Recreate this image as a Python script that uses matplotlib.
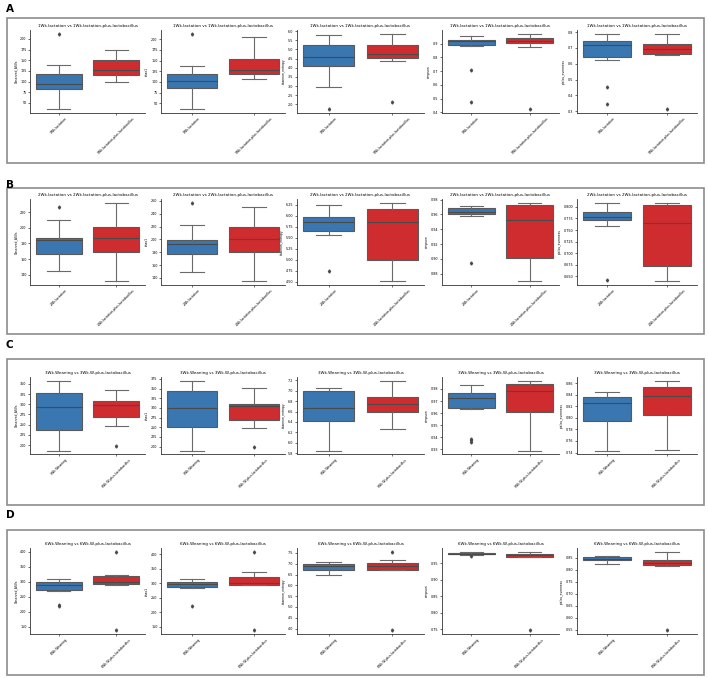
import numpy as np
import matplotlib
matplotlib.use('Agg')
import matplotlib.pyplot as plt
from matplotlib.patches import Rectangle
from matplotlib.ticker import MultipleLocator

metrics = ['Observed_ASVs', 'chao1', 'shannon_entropy', 'simpson', 'pielou_evenness']
panels = ['A', 'B', 'C', 'D']
groups = [['1Wk.lactation', '1Wk.lactation-plus-lactobacillus'],
          ['2Wk.lactation', '2Wk.lactation-plus-lactobacillus'],
          ['3Wk.Weaning', '3Wk.W-plus-lactobacillus'],
          ['6Wk.Weaning', '6Wk.W-plus-lactobacillus']]

# box stats per metric: whislo, q1, median, q3, whishi
A_ctrl = [[35, 82, 95, 118, 138], [36, 85, 103, 119, 138], [2.96, 4.08, 4.61, 5.22, 5.77],
          [0.880, 0.888, 0.922, 0.929, 0.957], [0.627, 0.644, 0.721, 0.746, 0.790]]
A_ctrl_out = [[212], [213], [1.73], [0.706, 0.474], [0.454, 0.346]]
A_lact = [[99, 116, 126, 150, 175], [107, 119, 128, 154, 206], [4.36, 4.54, 4.74, 5.25, 5.86],
          [0.874, 0.902, 0.919, 0.938, 0.972], [0.655, 0.660, 0.696, 0.727, 0.790]]
A_lact_out = [[], [], [2.12], [0.422], [0.312]]

B_ctrl = [[145, 167, 184, 187, 210.5], [149, 177, 193, 199, 222.6], [5.57, 5.64, 5.85, 5.98, 6.25],
          [0.958, 0.960, 0.9635, 0.968, 0.971], [0.759, 0.7715, 0.779, 0.788, 0.8085]]
B_ctrl_out = [[226.5], [257], [4.73], [0.894], [0.6415]]
B_lact = [[132, 169, 187, 201.4, 231.7], [135, 181, 200.5, 219, 251], [4.51, 4.99, 5.85, 6.16, 6.29],
          [0.870, 0.901, 0.953, 0.973, 0.9755], [0.640, 0.673, 0.766, 0.804, 0.8085]]
B_lact_out = [[], [], [], [], []]

C_ctrl = [[187, 238, 294, 327, 358], [190, 251, 300, 345, 371], [5.85, 6.41, 6.67, 6.99, 7.05],
          [0.963, 0.9644, 0.9728, 0.9764, 0.983], [0.7435, 0.7946, 0.826, 0.8356, 0.8457]]
C_ctrl_out = [[], [], [], [0.9386, 0.9375, 0.936], []]
C_lact = [[246, 268, 297, 308, 335], [248, 269, 304.5, 310, 351], [6.26, 6.59, 6.75, 6.89, 7.2],
          [0.929, 0.961, 0.9786, 0.984, 0.987], [0.7447, 0.8053, 0.8386, 0.854, 0.8648]]
C_lact_out = [[199], [199], [], [], []]

D_ctrl = [[268, 273, 288, 300, 310], [283.5, 287, 297, 305, 314], [6.46, 6.72, 6.88, 7.0, 7.08],
          [0.976, 0.978, 0.980, 0.982, 0.984], [0.826, 0.843, 0.847, 0.855, 0.859]]
D_ctrl_out = [[222, 218], [222.5], [], [0.972], []]
D_lact = [[288, 292.5, 299, 318, 323], [292.5, 295, 302, 321, 338], [6.69, 6.72, 6.9, 7.02, 7.16],
          [0.970, 0.971, 0.977, 0.979, 0.985], [0.816, 0.819, 0.83, 0.842, 0.875]]
D_lact_out = [[400, 138], [408, 139], [7.55, 3.93], [0.748], [0.548]]

ctrl = [A_ctrl, B_ctrl, C_ctrl, D_ctrl]
ctrl_out = [A_ctrl_out, B_ctrl_out, C_ctrl_out, D_ctrl_out]
lact = [A_lact, B_lact, C_lact, D_lact]
lact_out = [A_lact_out, B_lact_out, C_lact_out, D_lact_out]

# y tick spacing per panel / metric
tick_steps = [[25, 25, 0.5, 0.1, 0.1],
              [20, 20, 0.25, 0.02, 0.025],
              [25, 25, 0.2, 0.01, 0.02],
              [50, 50, 0.5, 0.05, 0.05]]

colors = ['#3a76af', '#cf2c2f']
W, H = 708, 678

fig = plt.figure(figsize=(W / 100, H / 100), dpi=100)
fig.patch.set_facecolor('white')

def fx(px):
    return px / W

def fy(py):
    return 1 - py / H

# panel frames (pixel rows)
frames = [(18, 163), (188, 334), (359, 505), (530, 675)]
label_y = [8.5, 185, 345, 515]
ax_rows = [(30, 113), (199, 285), (377, 454), (548, 634)]
ax_left = [30, 161, 297, 442, 577]
ax_right = [145, 285, 424, 559, 697]

def stats(s, out):
    return dict(whislo=s[0], q1=s[1], med=s[2], q3=s[3], whishi=s[4], fliers=out)

for p in range(4):
    top, bot = frames[p]
    fig.patches.append(Rectangle((fx(7), fy(bot)), fx(697), (bot - top) / H,
                                 transform=fig.transFigure, fill=False,
                                 edgecolor='#8c8c8c', linewidth=1.2))
    fig.text(fx(6), fy(label_y[p]), panels[p], fontsize=7.5, fontweight='bold',
             va='center', ha='left')
    t, b = ax_rows[p]
    for m in range(5):
        ax = fig.add_axes([fx(ax_left[m]), fy(b), fx(ax_right[m] - ax_left[m]), (b - t) / H])
        bx = [stats(ctrl[p][m], ctrl_out[p][m]), stats(lact[p][m], lact_out[p][m])]
        res = ax.bxp(bx, positions=[0, 1], widths=0.8, patch_artist=True,
                     showfliers=True, capwidths=0.4,
                     boxprops=dict(edgecolor='#5a5a5a', linewidth=0.8),
                     whiskerprops=dict(color='#6a6a6a', linewidth=0.8),
                     capprops=dict(color='#6a6a6a', linewidth=0.8),
                     medianprops=dict(color='#4a4a4a', linewidth=0.8),
                     flierprops=dict(marker='d', markersize=1.6, markerfacecolor='#4a4a4a',
                                     markeredgecolor='#4a4a4a'))
        for patch, c in zip(res['boxes'], colors):
            patch.set_facecolor(c)
        ax.set_xlim(-0.5, 1.5)
        ax.set_xticks([0, 1])
        ax.set_xticklabels(groups[p], rotation=45, ha='center', fontsize=2.3)
        ax.yaxis.set_major_locator(MultipleLocator(tick_steps[p][m]))
        ax.tick_params(axis='y', labelsize=2.4, length=1.5, width=0.4, pad=1)
        ax.tick_params(axis='x', length=1.5, width=0.4, pad=1)
        ax.set_title(f'{groups[p][0]} vs {groups[p][1]}', fontsize=2.9, pad=2)
        ax.set_ylabel(metrics[m], fontsize=2.2, labelpad=1.5)
        for s in ['top', 'right']:
            ax.spines[s].set_visible(False)
        for s in ['left', 'bottom']:
            ax.spines[s].set_linewidth(0.6)
            ax.spines[s].set_color('#333333')

fig.savefig('out.png', dpi=100, facecolor='white')
